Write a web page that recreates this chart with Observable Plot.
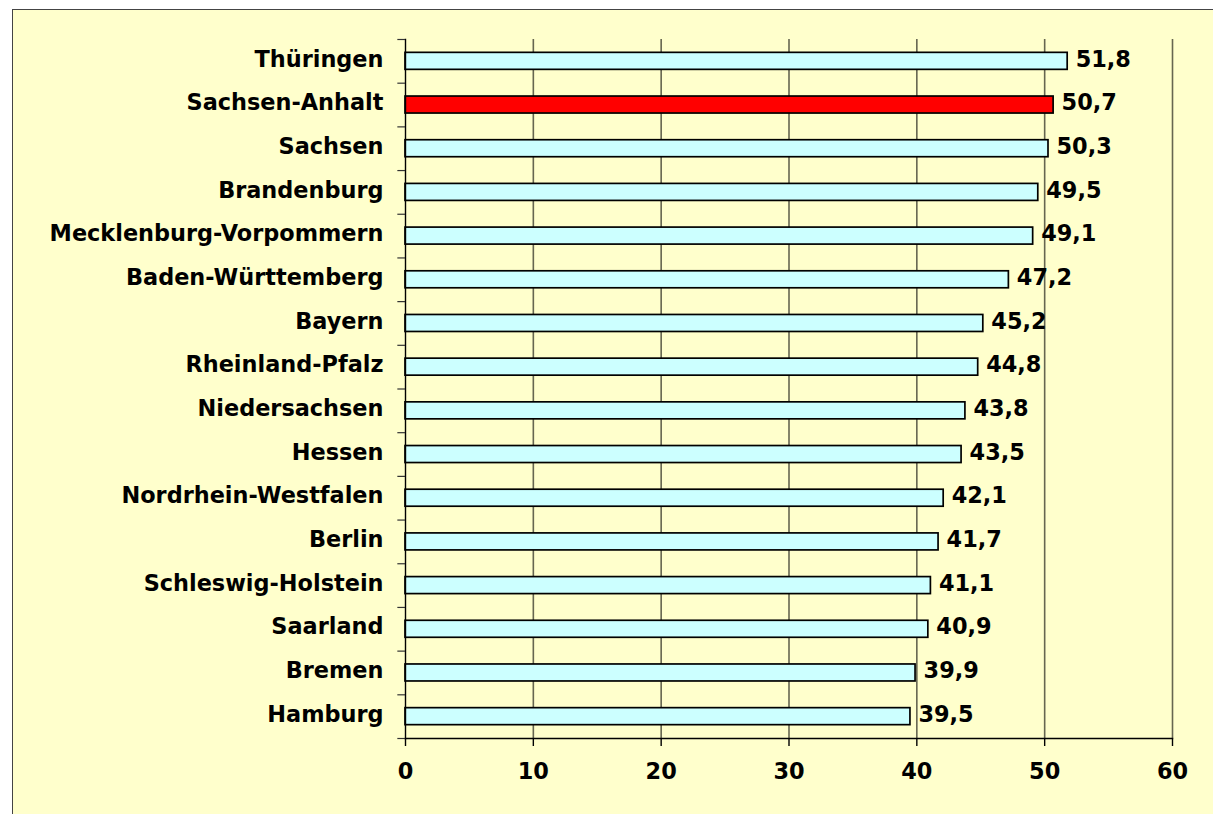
<!DOCTYPE html>
<html>
<head>
<meta charset="utf-8">
<script src="https://cdn.jsdelivr.net/npm/d3@7"></script>
<script src="https://cdn.jsdelivr.net/npm/@observablehq/plot@0.6"></script>
<style>
  html, body { margin: 0; padding: 0; background: #ffffff; }
  #wrap { position: relative; width: 1213px; height: 814px; overflow: hidden; }
  #bg { position: absolute; left: 12px; top: 9px; width: 1400px; height: 1000px;
        background: #FFFFCC; border: 1px solid #444444; }
  #chart { position: absolute; left: 0; top: 0; }
  #chart svg { background: transparent; }
</style>
</head>
<body>
<div id="wrap"><div id="bg"></div><div id="chart"></div></div>
<script>
const states = ["Thüringen","Sachsen-Anhalt","Sachsen","Brandenburg","Mecklenburg-Vorpommern",
  "Baden-Württemberg","Bayern","Rheinland-Pfalz","Niedersachsen","Hessen","Nordrhein-Westfalen",
  "Berlin","Schleswig-Holstein","Saarland","Bremen","Hamburg"];
const values = [51.8,50.7,50.3,49.5,49.1,47.2,45.2,44.8,43.8,43.5,42.1,41.7,41.1,40.9,39.9,39.5];
const highlight = "Sachsen-Anhalt";
const xTicks = [0,10,20,30,40,50,60];

const data = states.map((s, i) => ({state: s, value: values[i]}));
const fmt = v => v.toFixed(1).replace(".", ",");

const marginTop = 39, marginBottom = 76, H = 814;
const step = (H - marginTop - marginBottom) / states.length;
const barH = 17;
const inset = (step - barH) / 2;
const FS = 22.4;

const plot = Plot.plot({
  width: 1213,
  height: H,
  marginLeft: 405,
  marginRight: 41,
  marginTop,
  marginBottom,
  style: {background: "transparent", fontFamily: "'DejaVu Sans', Verdana, sans-serif", overflow: "visible"},
  x: {domain: [0, 60], round: false},
  y: {domain: states, padding: 0, round: false},
  marks: [
    Plot.ruleX(xTicks.filter(d => d > 0), {stroke: "#666650", strokeWidth: 1.6}),
    Plot.barX(data, {y: "state", x: "value", insetTop: inset, insetBottom: inset,
      fill: d => d.state === highlight ? "#FF0000" : "#CCFFFF",
      stroke: "#000000", strokeWidth: 1.7}),
    Plot.text(data, {y: "state", x: "value", text: d => fmt(d.value),
      textAnchor: "start", dx: 8, dy: -2, fontSize: FS, fontWeight: "bold", fill: "#000"}),
    Plot.frame({anchor: "left", stroke: "#000", strokeWidth: 1.4}),
    Plot.frame({anchor: "bottom", stroke: "#000", strokeWidth: 1.4}),
    // band boundary ticks on the y axis
    Plot.ruleY(states, {y: d => d, x1: -0.6, x2: 0, dy: -step / 2, stroke: "#333", strokeWidth: 1.2}),
    Plot.ruleY([states[states.length - 1]], {y: d => d, x1: -0.6, x2: 0, dy: step / 2, stroke: "#333", strokeWidth: 1.2}),
    Plot.axisY({tickSize: 0, tickPadding: 22, fontSize: FS, fontWeight: "bold", fill: "#000", label: null, dy: -2}),
    Plot.axisX({ticks: xTicks, tickSize: 8, tickPadding: 17, fontSize: FS, fontWeight: "bold", fill: "#000", stroke: "#000", strokeWidth: 1.4, label: null, tickFormat: d => String(d)})
  ]
});
document.getElementById("chart").appendChild(plot);
</script>
</body>
</html>
